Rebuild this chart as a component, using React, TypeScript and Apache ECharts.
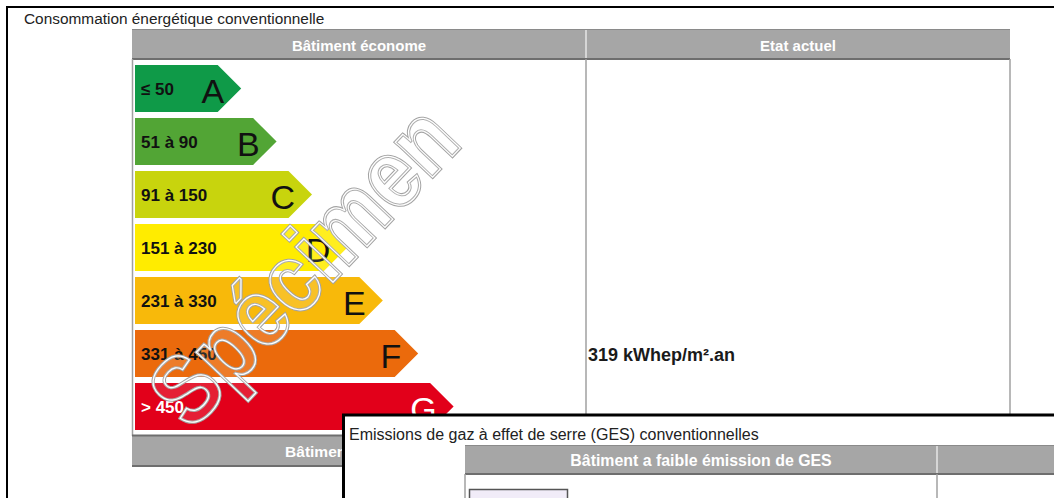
import React, { useEffect, useRef } from 'react';
import * as echarts from 'echarts';

// ---- Data ----
const classes = ['A', 'B', 'C', 'D', 'E', 'F', 'G'];
const ranges = ['≤ 50', '51 à 90', '91 à 150', '151 à 230', '231 à 330', '331 à 450', '> 450'];
const arrowLength = [3, 4, 5, 6, 7, 8, 9];
const classColors = ['#0f9a48', '#52a535', '#c8d40d', '#ffec00', '#f8b90a', '#eb6a0c', '#e2001a'];
const labelColors = ['#111', '#111', '#111', '#111', '#111', '#111', '#ffffff'];
const currentValue = 319;
const currentUnit = 'kWhep/m².an';
const currentClass = 'F';
const titleText = 'Consommation énergétique conventionnelle';
const headerLeft = 'Bâtiment économe';
const headerRight = 'Etat actuel';
const footerLeft = 'Bâtiment énergivore';
const gesTitle = 'Emissions de gaz à effet de serre (GES) conventionnelles';
const gesHeader = 'Bâtiment a faible émission de GES';
const watermark = 'Spécimen';

const FONT = '"Liberation Sans", Arial, Helvetica, sans-serif';
const GRAY = '#a6a6a6';
const DARK = '#6e6e6e';

function txt(x: number, y: number, text: string, size: number, opts: any = {}) {
  return {
    type: 'text',
    x,
    y,
    z: opts.z ?? 3,
    style: {
      text,
      fontFamily: FONT,
      fontSize: size,
      fontWeight: opts.bold ? 'bold' : 'normal',
      fill: opts.fill ?? '#222',
      align: opts.align ?? 'left',
      verticalAlign: 'middle',
      textAlign: opts.align ?? 'left',
      textVerticalAlign: 'middle',
    },
  };
}
function ln(x1: number, y1: number, x2: number, y2: number, stroke: string, w: number, z = 1) {
  return { type: 'line', z, shape: { x1, y1, x2, y2 }, style: { stroke, lineWidth: w } };
}
function rc(x: number, y: number, width: number, height: number, fill: string, z = 1, stroke?: string, lw = 0) {
  return { type: 'rect', z, shape: { x, y, width, height }, style: { fill, stroke, lineWidth: lw } };
}
function mark(stroke: string, lw: number, fill: string, z: number) {
  return {
    type: 'text',
    x: 303,
    y: 265,
    rotation: (46.5 * Math.PI) / 180,
    scaleY: 1.15,
    z,
    style: {
      text: watermark,
      fontFamily: FONT,
      fontSize: 84,
      fontWeight: 'bold',
      fill,
      stroke,
      lineWidth: lw,
      align: 'center',
      verticalAlign: 'middle',
      textAlign: 'center',
      textVerticalAlign: 'middle',
    },
  };
}

export default function App() {
  const ref = useRef<HTMLDivElement>(null);
  useEffect(() => {
    if (!ref.current) return;
    const chart = echarts.init(ref.current, undefined, { renderer: 'svg' });

    const graphic: any[] = [
      // outer frame
      ln(6, 7, 1054, 7, '#000', 2),
      ln(7, 6, 7, 498, '#000', 2),
      txt(24, 18, titleText, 15.4),
      // header
      rc(132, 29, 878, 30, GRAY),
      ln(132, 29.5, 1010, 29.5, '#8a8a8a', 1),
      ln(132, 59, 1010, 59, DARK, 2),
      ln(586, 30, 586, 58, '#e6e6e6', 1.5),
      txt(359, 45, headerLeft, 15, { bold: true, fill: '#fff', align: 'center' }),
      txt(798, 45, headerRight, 15, { bold: true, fill: '#fff', align: 'center' }),
      // body lines
      ln(132.5, 59, 132.5, 436, '#a0a0a0', 1.5),
      ln(586, 59, 586, 436, '#a0a0a0', 1.5),
      ln(1010, 59, 1010, 436, '#a0a0a0', 1.5),
      // footer
      rc(132, 436, 878, 30, GRAY),
      ln(132, 435.5, 1010, 435.5, DARK, 2),
      ln(132, 466, 1010, 466, DARK, 2),
      txt(360, 451, footerLeft, 15.5, { bold: true, fill: '#fff', align: 'center' }),
      // watermark (double outline)
      mark('#a3a3a3', 3, 'rgba(255,255,255,0.12)', 5),
      mark('#ffffff', 1.1, 'rgba(255,255,255,0)', 6),
      // overlay GES panel
      rc(343.5, 415, 760, 120, '#fff', 10, '#000', 3),
      txt(349, 434, gesTitle, 16, { z: 11 }),
      rc(465, 445, 600, 29, GRAY, 11),
      ln(465, 445.5, 1054, 445.5, '#8a8a8a', 1, 12),
      ln(465, 474, 1054, 474, DARK, 2, 12),
      ln(937, 446, 937, 473, '#e6e6e6', 1.5, 12),
      txt(701, 460, gesHeader, 15.9, { bold: true, fill: '#fff', align: 'center', z: 12 }),
      ln(465, 474, 465, 498, '#a0a0a0', 1.5, 12),
      ln(937, 474, 937, 498, '#a0a0a0', 1.5, 12),
      rc(469.5, 489.5, 98, 15, '#f1ecf8', 12, '#555', 1.5),
    ];

    chart.setOption({
      animation: false,
      grid: { left: 135, top: 62, width: 354, height: 371 },
      xAxis: { type: 'value', min: 0, max: 10, show: false },
      yAxis: { type: 'category', data: classes, inverse: true, show: false },
      graphic,
      series: [
        {
          type: 'custom',
          z: 2,
          data: classes.map((c, i) => [arrowLength[i], i]),
          encode: { x: 0, y: 1 },
          renderItem: (params: any, api: any) => {
            const i = params.dataIndex;
            const len = api.value(0);
            const cat = api.value(1);
            const p0 = api.coord([0, cat]);
            const p1 = api.coord([len, cat]);
            const band = api.size([0, 1])[1];
            const h = band * 0.887;
            const half = h / 2;
            const x0 = p0[0];
            const xe = p1[0];
            const y = p0[1];
            return {
              type: 'group',
              children: [
                {
                  type: 'polygon',
                  shape: {
                    points: [
                      [x0, y - half],
                      [xe - half, y - half],
                      [xe, y],
                      [xe - half, y + half],
                      [x0, y + half],
                    ],
                  },
                  style: { fill: classColors[i] },
                },
                {
                  type: 'text',
                  x: x0 + 6,
                  y: y + 1,
                  style: {
                    text: ranges[i],
                    fontFamily: FONT,
                    fontSize: 17,
                    fontWeight: 'bold',
                    fill: labelColors[i],
                    align: 'left',
                    verticalAlign: 'middle',
                  },
                },
                {
                  type: 'text',
                  x: xe - 17,
                  y: y + 2,
                  style: {
                    text: classes[i],
                    fontFamily: FONT,
                    fontSize: 34,
                    fill: labelColors[i],
                    align: 'right',
                    verticalAlign: 'middle',
                  },
                },
              ],
            };
          },
        },
        {
          type: 'custom',
          z: 3,
          data: [[0, classes.indexOf(currentClass)]],
          encode: { x: 0, y: 1 },
          renderItem: (params: any, api: any) => {
            const p = api.coord([0, api.value(1)]);
            return {
              type: 'text',
              x: 588,
              y: p[1] + 1,
              style: {
                text: `${currentValue} ${currentUnit}`,
                fontFamily: FONT,
                fontSize: 18,
                fontWeight: 'bold',
                fill: '#1a1a1a',
                align: 'left',
                verticalAlign: 'middle',
              },
            };
          },
        },
      ],
    });
    return () => chart.dispose();
  }, []);
  return (
    <div
      ref={ref}
      style={{ position: 'fixed', left: 0, top: 0, width: 1054, height: 498, background: '#fff' }}
    />
  );
}
